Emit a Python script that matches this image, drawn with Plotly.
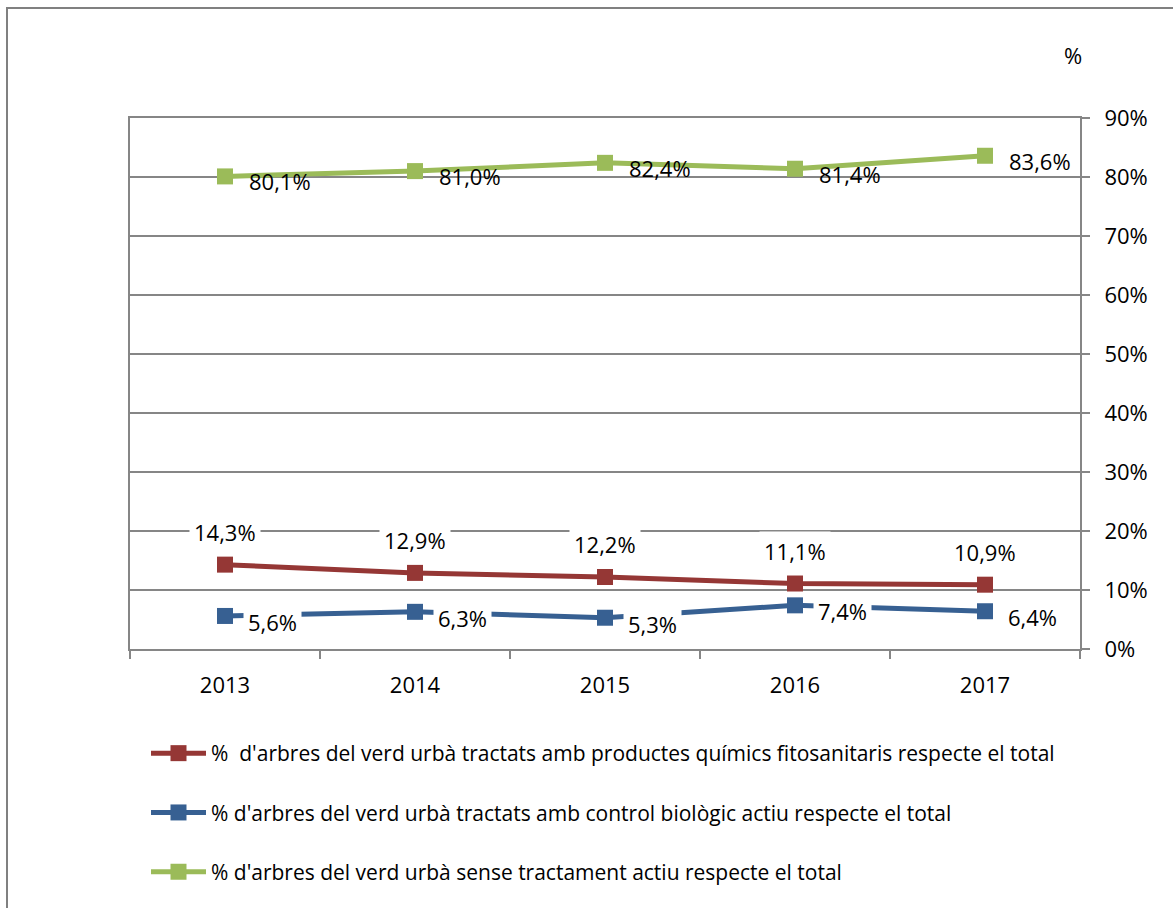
import plotly.graph_objects as go

years = ["2013", "2014", "2015", "2016", "2017"]
quimics = [14.3, 12.9, 12.2, 11.1, 10.9]
biologic = [5.6, 6.3, 5.3, 7.4, 6.4]
sense = [80.1, 81.0, 82.4, 81.4, 83.6]

names = [
    "%  d'arbres del verd urbà tractats amb productes químics fitosanitaris respecte el total",
    "% d'arbres del verd urbà tractats amb control biològic actiu respecte el total",
    "% d'arbres del verd urbà sense tractament actiu respecte el total",
]
colors = ["#953735", "#376092", "#9BBB59"]
series = [quimics, biologic, sense]

FONT = "Open Sans"
LBL = 22

fig = go.Figure()
for i, (vals, name, col) in enumerate(zip(series, names, colors)):
    fig.add_trace(go.Scatter(
        x=years, y=vals, name=name, mode="lines+markers",
        line=dict(color=col, width=5),
        marker=dict(symbol="square", size=16, color=col),
        legendgroup=f"g{i}",
        cliponaxis=False,
    ))

def fmt(v):
    return f"{v:.1f}%".replace(".", ",")

annotations = []
# red labels above, white background
for i, v in enumerate(quimics):
    annotations.append(dict(x=i, y=v, xref="x", yref="y", text=fmt(v), showarrow=False,
                            yshift=33, bgcolor="white", borderpad=4,
                            font=dict(size=LBL, color="black", family=FONT)))
# blue labels right, white background
for i, v in enumerate(biologic):
    annotations.append(dict(x=i, y=v, xref="x", yref="y", text=fmt(v), showarrow=False,
                            xanchor="left", xshift=18, yshift=-6, bgcolor="white", borderpad=4,
                            font=dict(size=LBL, color="black", family=FONT)))
# green labels right, no background
for i, v in enumerate(sense):
    annotations.append(dict(x=i, y=v, xref="x", yref="y", text=fmt(v), showarrow=False,
                            xanchor="left", xshift=22, yshift=-5,
                            font=dict(size=LBL, color="black", family=FONT)))

L, R, T, B = 130, 93, 118, 259
W, H = 1173, 908
pw, ph = W - L - R, H - T - B

annotations.append(dict(x=(1073 - L) / pw, y=(H - B - 55) / ph, xref="paper", yref="paper",
                        xanchor="center", yanchor="middle",
                        text="%", showarrow=False,
                        font=dict(size=LBL, color="black", family=FONT)))

fig.update_layout(
    width=W, height=H,
    margin=dict(l=L, r=R, t=T, b=B, pad=0),
    paper_bgcolor="white", plot_bgcolor="white",
    font=dict(family=FONT, size=LBL, color="black"),
    showlegend=True,
    legend=dict(
        x=(146 - L) / pw, y=(H - B - 733) / ph, xanchor="left", yanchor="top",
        font=dict(size=21, family=FONT, color="black"),
        tracegroupgap=29, itemwidth=55, bgcolor="rgba(0,0,0,0)",
    ),
    annotations=annotations,
    shapes=[dict(type="rect", xref="paper", yref="paper",
                 x0=(7 - L) / pw, x1=(1185 - L) / pw,
                 y0=(H - B - 920) / ph, y1=(H - B - 8) / ph,
                 line=dict(color="#808080", width=2), fillcolor="rgba(0,0,0,0)", layer="below")],
)
fig.update_xaxes(
    type="category", range=[-0.5, 4.5],
    showline=True, linecolor="#868686", linewidth=2, mirror=True,
    ticks="outside", ticklen=8, tickcolor="#868686", tickwidth=2, tickson="boundaries",
    showgrid=False, ticklabelstandoff=16,
    tickfont=dict(size=LBL, family=FONT, color="black"),
)
fig.update_yaxes(
    side="right", range=[0, 90], tickvals=[0, 10, 20, 30, 40, 50, 60, 70, 80, 90],
    ticktext=[f"{v}%" for v in range(0, 100, 10)],
    showline=True, linecolor="#868686", linewidth=2, mirror=True,
    ticks="outside", ticklen=8, tickcolor="#868686", tickwidth=2,
    showgrid=True, gridcolor="#868686", gridwidth=1.5, zeroline=False,
    ticklabelstandoff=10,
    tickfont=dict(size=LBL, family=FONT, color="black"),
)

fig.write_html("out.html", config={"displayModeBar": False},
               post_script="document.body.style.margin='0';document.body.style.padding='0';")
